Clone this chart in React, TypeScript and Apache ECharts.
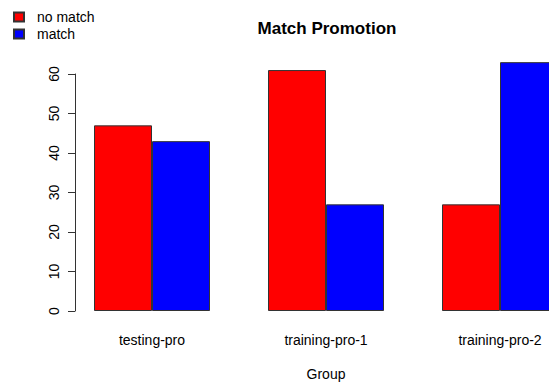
import React, { useEffect, useRef } from "react";
import * as echarts from "echarts";

const groups = ["testing-pro", "training-pro-1", "training-pro-2"];
const noMatch = [47, 61, 27];
const match = [43, 27, 63];
const seriesNames = ["no match", "match"];
const seriesColors = ["#ff0000", "#0000ff"];
const yMin = 0;
const yMax = 60;
const yStep = 10;

const FONT = "'Liberation Sans', Arial, Helvetica, sans-serif";

export default function App() {
  const ref = useRef<HTMLDivElement>(null);
  useEffect(() => {
    if (!ref.current) return;
    const chart = echarts.init(ref.current, undefined, { renderer: "svg" });
    chart.setOption({
      animation: false,
      backgroundColor: "#ffffff",
      textStyle: { fontFamily: FONT },
      title: {
        text: "Match Promotion",
        left: 322,
        top: 15,
        textAlign: "center",
        textStyle: { fontFamily: FONT, fontSize: 17, fontWeight: "bold", color: "#000" },
      },
      legend: {
        orient: "vertical",
        left: 8,
        top: 5,
        itemWidth: 10,
        itemHeight: 9,
        itemGap: 3,
        icon: "rect",
        data: seriesNames,
        textStyle: { fontFamily: FONT, fontSize: 14, color: "#000", padding: [0, 0, 0, 8] },
      },
      grid: { left: 65, right: -38, top: 74, bottom: 72, outerBoundsMode: "none", containLabel: false },
      xAxis: {
        type: "category",
        data: groups,
        axisLine: { show: false },
        axisTick: { show: false },
        axisLabel: { fontFamily: FONT, fontSize: 14, color: "#000", margin: 22 },
        name: "Group",
        nameLocation: "middle",
        nameGap: 56,
        nameTextStyle: { fontFamily: FONT, fontSize: 14, color: "#000" },
      },
      yAxis: {
        type: "value",
        min: yMin,
        max: yMax,
        interval: yStep,
        offset: -10,
        splitLine: { show: false },
        axisLine: { show: true, lineStyle: { color: "#333", width: 1 } },
        axisTick: { show: true, length: 7, lineStyle: { color: "#333", width: 1 } },
        axisLabel: { fontFamily: FONT, fontSize: 14, color: "#000", rotate: 90, margin: 14 },
      },
      series: [
        {
          name: seriesNames[0],
          type: "bar",
          data: noMatch,
          barWidth: 58,
          barGap: "0%",
          clip: false,
          itemStyle: { color: seriesColors[0], borderColor: "#333", borderWidth: 1 },
        },
        {
          name: seriesNames[1],
          type: "bar",
          data: match,
          barWidth: 58,
          barGap: "0%",
          clip: false,
          itemStyle: { color: seriesColors[1], borderColor: "#333", borderWidth: 1 },
        },
      ],
    });
    return () => chart.dispose();
  }, []);
  return (
    <div
      ref={ref}
      style={{ position: "absolute", left: 0, top: 0, width: 549, height: 383 }}
    />
  );
}
